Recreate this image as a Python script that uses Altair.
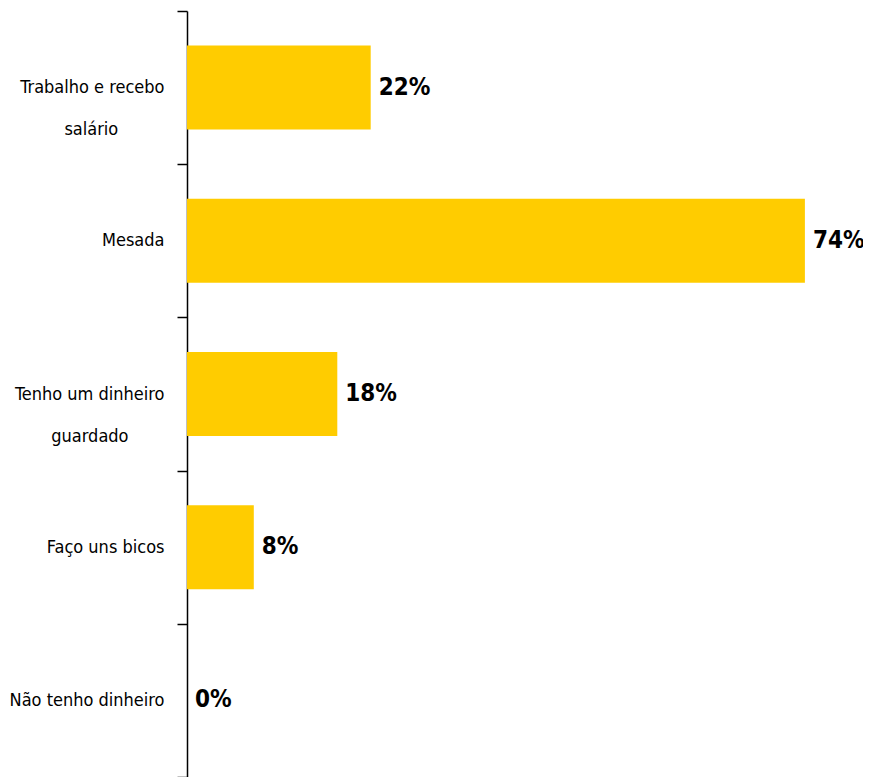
import altair as alt
import pandas as pd

categories = ["Trabalho e recebo|salário", "Mesada", "Tenho um dinheiro|guardado", "Faço uns bicos", "Não tenho dinheiro"]
values = [22, 74, 18, 8, 0]

# trailing padding for the short second line, so both lines look centred on each other
NB = "\u00a0"
pads = {"Trabalho e recebo|salário": 9, "Tenho um dinheiro|guardado": 7}
display = [c + (NB * pads[c] + "\u200b" if c in pads else "") for c in categories]

df = pd.DataFrame({"cat": display, "value": values})
df["label"] = [f"{v}%" for v in values]

FONT = "DejaVu Sans Condensed, sans-serif"

y = alt.Y("cat:N", sort=display,
          scale=alt.Scale(paddingInner=0, paddingOuter=0),
          axis=alt.Axis(title=None, tickBand="extent", domainColor="#000", domainWidth=1.5,
                        tickColor="#000", tickWidth=1.5, tickSize=10, labelPadding=13,
                        labelFont=FONT, labelFontSize=18, labelColor="#000",
                        labelLineHeight=42, labelLimit=220,
                        labelExpr="split(datum.label, '|')"))
x = alt.X("value:Q", scale=alt.Scale(domain=[0, 80]), axis=None)

bars = alt.Chart(df).mark_bar(color="#FFCC00", size=84).encode(x=x, y=y)
text = alt.Chart(df).mark_text(align="left", baseline="middle", dx=8, font=FONT,
                               fontSize=24, fontWeight="bold", color="#000").encode(
    x=x, y=y, text="label:N")

chart = (bars + text).properties(
    width=668, height=766,
    autosize=alt.AutoSizeParams(type="none"),
    padding={"left": 179, "top": 3, "right": 8, "bottom": 0},
).configure_view(stroke=None)

chart.save("out.html", embed_options={"renderer": "svg", "actions": False})
